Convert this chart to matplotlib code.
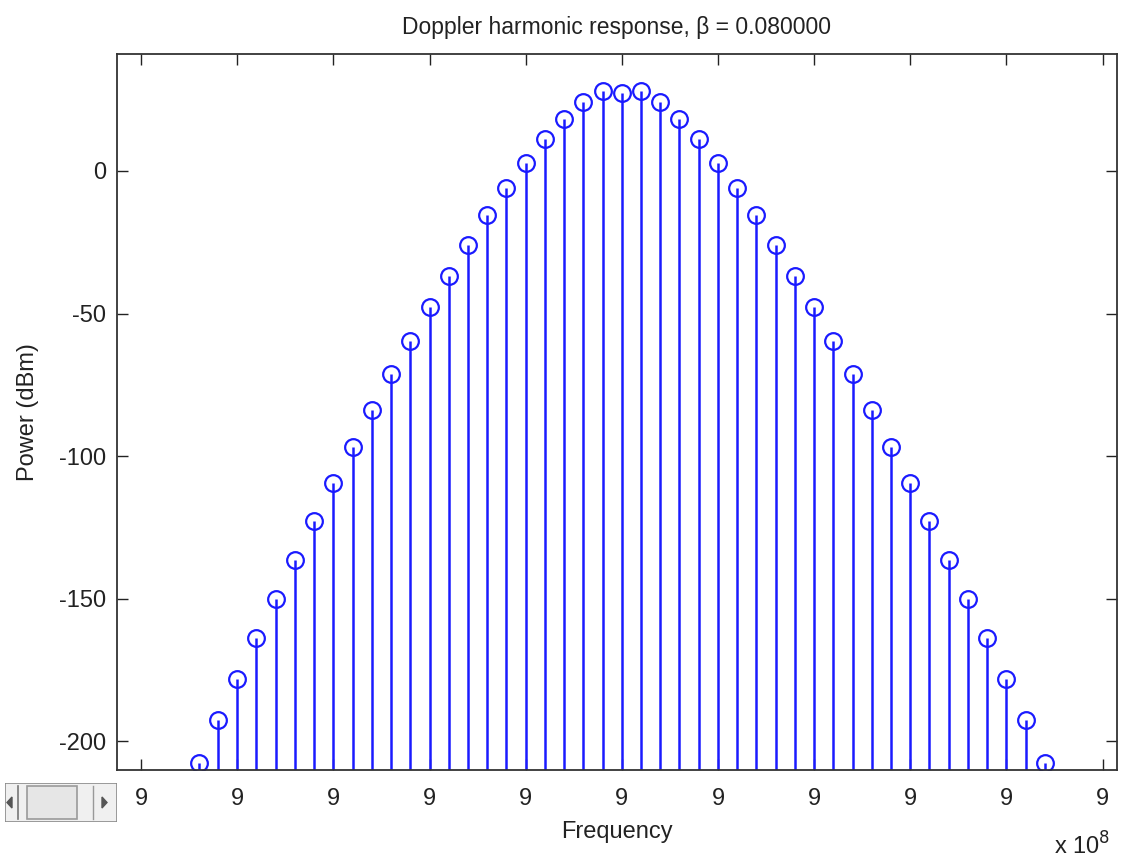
import matplotlib
matplotlib.use("Agg")
import matplotlib.pyplot as plt
from matplotlib.patches import Rectangle, Polygon

plt.rcParams['font.family'] = ['Liberation Sans', 'DejaVu Sans']

# harmonic index, carrier and spacing
harmonics = list(range(-22, 23))
f_carrier = 9e8
f_step = 1e5

# power (dBm), harmonic -22 .. +22
power_dbm = [
    -207.4, -192.6, -178.0, -163.6, -150.0, -136.3, -122.6, -109.3, -96.8, -83.9,
    -71.2, -59.5, -47.6, -36.9, -26.0, -15.4, -6.1, 2.9, 11.1, 18.2,
    24.3, 28.0, 27.2, 28.0, 24.3, 18.2, 11.1, 2.9, -6.1, -15.4,
    -26.0, -36.9, -47.6, -59.5, -71.2, -83.9, -96.8, -109.3, -122.6, -136.3,
    -150.0, -163.6, -178.0, -192.6, -207.4,
]

y_ticks = [-200, -150, -100, -50, 0]
x_tick_labels = ['9'] * 11

freq = [f_carrier + k * f_step for k in harmonics]
y_min, y_max = -210, 41

fig = plt.figure(figsize=(11.21, 8.60), dpi=100)
ax = fig.add_axes([0.1044, 0.1047, 0.892, 0.8326])

blue = '#1a1aff'
ax.vlines(freq, y_min, power_dbm, color=blue, linewidth=1.8)
ax.plot(freq, power_dbm, 'o', mfc='none', mec=blue, mew=1.6, ms=12, clip_on=True)

ax.set_xlim(f_carrier - 26.25 * f_step, f_carrier + 25.75 * f_step)
ax.set_ylim(y_min, y_max)
ax.set_xticks([f_carrier + k * 5 * f_step for k in range(-5, 6)])
ax.set_xticklabels(x_tick_labels)
ax.set_yticks(y_ticks)
ax.set_yticklabels([str(v) for v in y_ticks])

ax.tick_params(direction='in', length=8, width=1, top=True, right=True,
               labelsize=17, colors='#222222')
ax.tick_params(axis='x', pad=13)
ax.tick_params(axis='y', pad=8)
for s in ax.spines.values():
    s.set_linewidth(1.3)
    s.set_color('#333333')

ax.set_title('Doppler harmonic response, \u03b2 = 0.080000', fontsize=16.5,
             color='#222222', pad=14)
ax.set_xlabel('Frequency', fontsize=17, color='#222222', labelpad=8)
ax.set_ylabel('Power (dBm)', fontsize=17, color='#222222', labelpad=14)
fig.text(1082 / 1121, 1 - 846 / 860, 'x 10$^8$', fontsize=17, color='#222222',
         ha='center', va='center')

# little scrollbar widget at the bottom left
sb = fig.add_axes([5 / 1121, 1 - 822 / 860, 112 / 1121, 39 / 860])
sb.set_xlim(0, 112)
sb.set_ylim(0, 39)
sb.axis('off')
sb.add_patch(Rectangle((0, 0), 112, 39, facecolor='#f0f0f0', edgecolor='#8a8a8a', lw=1.2))
sb.add_patch(Rectangle((22, 3), 50, 33, facecolor='#e6e6e6', edgecolor='#9a9a9a', lw=1.2))
sb.add_patch(Polygon([[2, 19.5], [7, 25], [7, 14]], closed=True, color='#555555'))
sb.add_patch(Polygon([[97, 14], [97, 25], [102, 19.5]], closed=True, color='#555555'))
sb.plot([13, 13], [3, 36], color='#777777', lw=1.2)
sb.plot([88, 88], [3, 36], color='#999999', lw=1.0)

fig.savefig('out.png', dpi=100)
